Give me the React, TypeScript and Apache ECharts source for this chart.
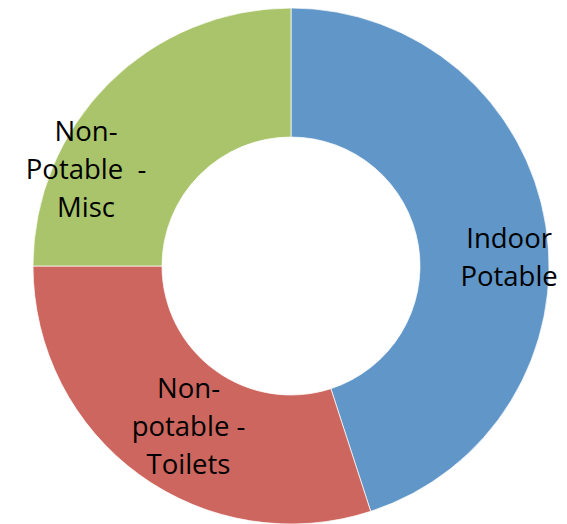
import React, { useEffect, useRef } from "react";
import * as echarts from "echarts";

const categories = ["Indoor\nPotable", "Non-\npotable -\nToilets", "Non-\nPotable  -\nMisc"];
const values = [45, 30, 25];
const colors = ["#6096C8", "#CC665E", "#A9C46A"];
const labelOffsets = [[24, 21], [13, 1], [-66, 41]];

export default function App() {
  const ref = useRef<HTMLDivElement>(null);
  useEffect(() => {
    document.body.style.margin = "0";
    const chart = echarts.init(ref.current!, null, { renderer: "svg" });
    chart.setOption({
      animation: false,
      series: [
        {
          type: "pie",
          radius: [129, 258],
          center: [291, 266],
          startAngle: 90,
          clockwise: true,
          avoidLabelOverlap: false,
          itemStyle: { borderColor: "rgba(255,255,255,0.7)", borderWidth: 1 },
          label: {
            show: true,
            position: "inside",
            color: "#000",
            fontFamily: "Open Sans",
            fontSize: 27.5,
            lineHeight: 38,
            align: "center",
          },
          labelLine: { show: false },
          emphasis: { disabled: true },
          data: categories.map((name, i) => ({
            name,
            value: values[i],
            itemStyle: { color: colors[i] },
            label: { formatter: name, offset: labelOffsets[i] },
          })),
        },
      ],
    });
    return () => chart.dispose();
  }, []);
  return <div ref={ref} style={{ width: 567, height: 524 }} />;
}
